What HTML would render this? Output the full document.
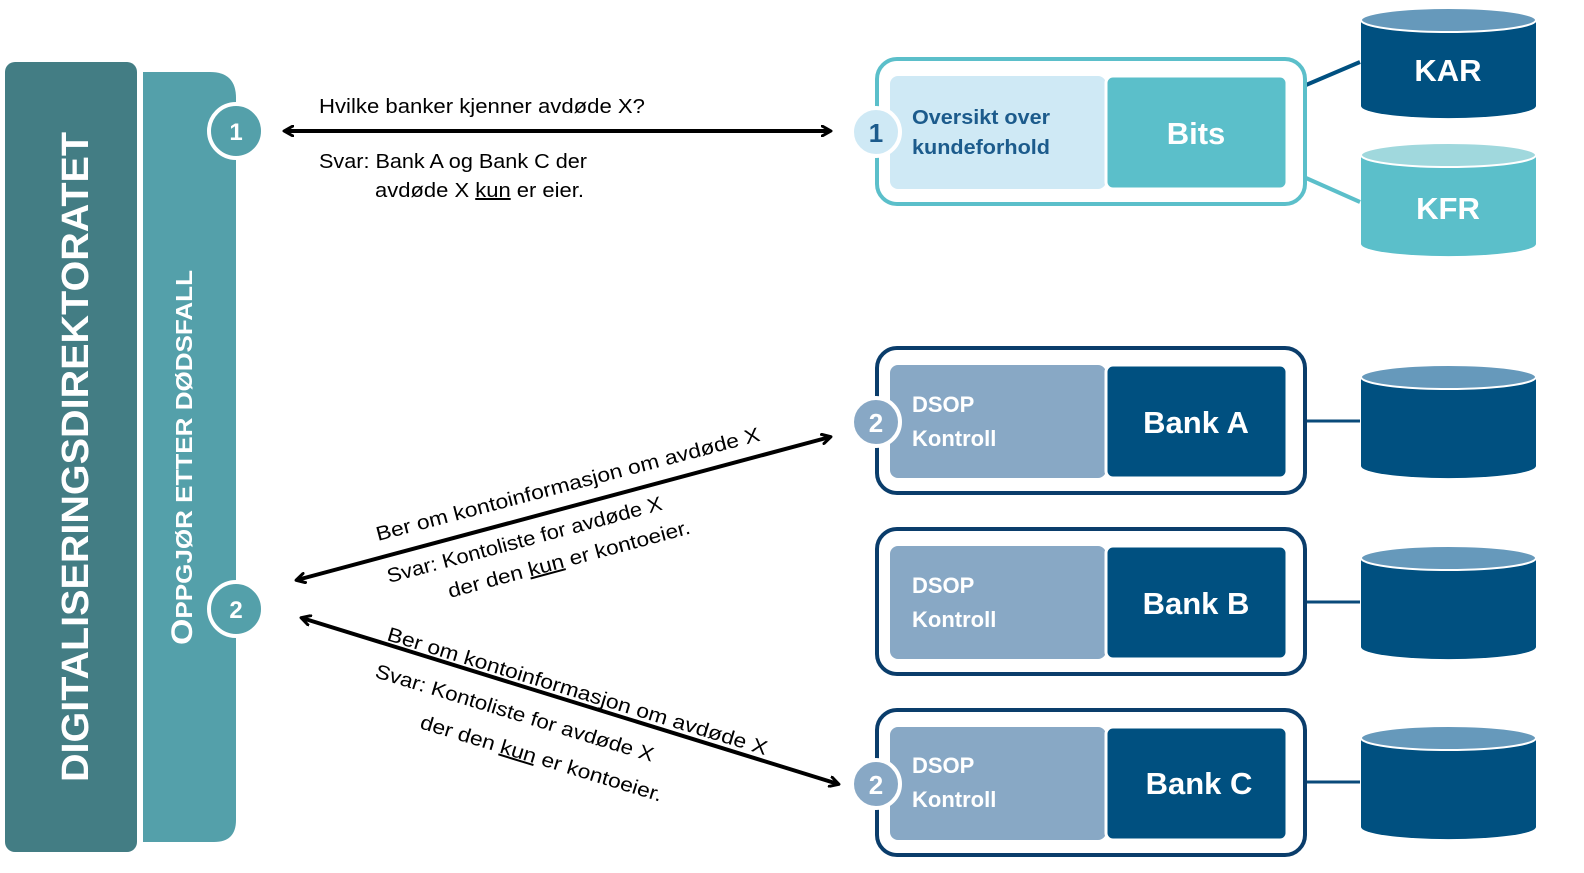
<!DOCTYPE html>
<html><head><meta charset="utf-8"><style>
html,body{margin:0;padding:0;background:#fff;width:1584px;height:873px;overflow:hidden;}
svg{position:absolute;left:0;top:0;font-family:"Liberation Sans",sans-serif;}
</style></head><body><svg width="1584" height="873" viewBox="0 0 1584 873" xmlns="http://www.w3.org/2000/svg">
<defs>
<marker id="ah" markerWidth="12" markerHeight="12" refX="9" refY="6" orient="auto-start-reverse" markerUnits="userSpaceOnUse">
<path d="M1,1 L10,6 L1,11" fill="none" stroke="#000" stroke-width="3" stroke-linecap="round" stroke-linejoin="round"/>
</marker>
</defs>
<rect x="5" y="62" width="132" height="790" rx="10" fill="#437d84"/>
<path d="M143,72 H210 Q236,72 236,98 V820 Q236,842 214,842 H143 Z" fill="#54a0aa"/>
<text transform="translate(88,782) rotate(-90)" fill="#fff" font-weight="bold" font-size="38" textLength="650" lengthAdjust="spacingAndGlyphs">DIGITALISERINGSDIREKTORATET</text>
<text transform="translate(192,645) rotate(-90)" fill="#fff" font-weight="bold" font-size="30" textLength="375" lengthAdjust="spacingAndGlyphs">O<tspan font-size="23">PPGJØR ETTER DØDSFALL</tspan></text>
<circle cx="236" cy="131" r="27" fill="#54a0aa" stroke="#fff" stroke-width="4"/>
<text x="236" y="140" fill="#fff" font-weight="bold" font-size="24" text-anchor="middle">1</text>
<circle cx="236" cy="609" r="27" fill="#54a0aa" stroke="#fff" stroke-width="4"/>
<text x="236" y="618" fill="#fff" font-weight="bold" font-size="24" text-anchor="middle">2</text>

<line x1="285" y1="131" x2="830" y2="131" stroke="#000" stroke-width="4" marker-start="url(#ah)" marker-end="url(#ah)"/>
<g font-size="20" fill="#000">
<text x="319" y="113" textLength="326" lengthAdjust="spacingAndGlyphs">Hvilke banker kjenner avdøde X?</text>
<text x="319" y="168" textLength="268" lengthAdjust="spacingAndGlyphs">Svar: Bank A og Bank C der</text>
<text x="375" y="197" textLength="209" lengthAdjust="spacingAndGlyphs">avdøde X <tspan text-decoration="underline">kun</tspan> er eier.</text>
</g>

<line x1="297" y1="580" x2="830" y2="437" stroke="#000" stroke-width="4" marker-start="url(#ah)" marker-end="url(#ah)"/>
<line x1="302" y1="618" x2="838" y2="784" stroke="#000" stroke-width="4" marker-start="url(#ah)" marker-end="url(#ah)"/>
<g font-size="20" fill="#000">
<text transform="translate(378,541) rotate(-14.7)" textLength="396" lengthAdjust="spacingAndGlyphs">Ber om kontoinformasjon om avdøde X</text>
<text transform="translate(389,583) rotate(-15)" textLength="284" lengthAdjust="spacingAndGlyphs">Svar: Kontoliste for avdøde X</text>
<text transform="translate(450,598) rotate(-15)" textLength="250" lengthAdjust="spacingAndGlyphs">der den <tspan text-decoration="underline">kun</tspan> er kontoeier.</text>
<text transform="translate(386,640) rotate(16.9)" textLength="396" lengthAdjust="spacingAndGlyphs">Ber om kontoinformasjon om avdøde X</text>
<text transform="translate(374,677) rotate(17)" textLength="290" lengthAdjust="spacingAndGlyphs">Svar: Kontoliste for avdøde X</text>
<text transform="translate(419,728) rotate(17)" textLength="252" lengthAdjust="spacingAndGlyphs">der den <tspan text-decoration="underline">kun</tspan> er kontoeier.</text>
</g>

<line x1="1306" y1="85" x2="1360" y2="62" stroke="#005080" stroke-width="4"/>
<line x1="1306" y1="178" x2="1360" y2="202" stroke="#5bbfca" stroke-width="4"/>
<rect x="877" y="59" width="428" height="145" rx="20" fill="#fff" stroke="#5bbfca" stroke-width="4"/>
<rect x="890" y="76" width="216" height="113" rx="8" fill="#cfe9f5"/>
<rect x="1106" y="76" width="181" height="113" rx="7" fill="#5bbfca" stroke="#fff" stroke-width="3"/>
<circle cx="876" cy="132" r="24" fill="#cfe9f5" stroke="#fff" stroke-width="4"/>
<text x="876" y="142" fill="#1c5b8c" font-weight="bold" font-size="26" text-anchor="middle">1</text>
<text x="912" y="124" fill="#1c5b8c" font-weight="bold" font-size="20" textLength="138" lengthAdjust="spacingAndGlyphs">Oversikt over</text>
<text x="912" y="154" fill="#1c5b8c" font-weight="bold" font-size="20" textLength="138" lengthAdjust="spacingAndGlyphs">kundeforhold</text>
<text x="1196" y="144" fill="#fff" font-weight="bold" font-size="31" text-anchor="middle">Bits</text>

<path d="M1361,20 V106 A87,12 0 0 0 1536,106 V20 Z" fill="#005080"/>
<ellipse cx="1448.5" cy="20" rx="87.5" ry="12" fill="#6699bb" stroke="#fff" stroke-width="2"/>
<text x="1448" y="81" fill="#fff" font-weight="bold" font-size="31" text-anchor="middle">KAR</text>
<path d="M1361,155 V244 A87,12 0 0 0 1536,244 V155 Z" fill="#5bbfca"/>
<ellipse cx="1448.5" cy="155" rx="87.5" ry="12" fill="#a0d8dd" stroke="#fff" stroke-width="2"/>
<text x="1448" y="219" fill="#fff" font-weight="bold" font-size="31" text-anchor="middle">KFR</text>

<g>
<line x1="1306" y1="421" x2="1360" y2="421" stroke="#0a4a7a" stroke-width="3"/>
<rect x="877" y="348" width="428" height="145" rx="20" fill="#fff" stroke="#0a3d6b" stroke-width="4"/>
<rect x="890" y="365" width="216" height="113" rx="8" fill="#88a8c5"/>
<rect x="1106" y="365" width="181" height="113" rx="7" fill="#005080" stroke="#fff" stroke-width="3"/>
<text x="912" y="412" fill="#fff" font-weight="bold" font-size="22">DSOP</text>
<text x="912" y="446" fill="#fff" font-weight="bold" font-size="22">Kontroll</text>
<text x="1196" y="433" fill="#fff" font-weight="bold" font-size="31" text-anchor="middle">Bank A</text>
<circle cx="876" cy="422" r="24" fill="#88a8c5" stroke="#fff" stroke-width="4"/>
<text x="876" y="432" fill="#fff" font-weight="bold" font-size="26" text-anchor="middle">2</text>
<path d="M1361,377 V466 A87,12 0 0 0 1536,466 V377 Z" fill="#005080"/>
<ellipse cx="1448.5" cy="377" rx="87.5" ry="12" fill="#6699bb" stroke="#fff" stroke-width="2"/>
</g>
<g>
<line x1="1306" y1="602" x2="1360" y2="602" stroke="#0a4a7a" stroke-width="3"/>
<rect x="877" y="529" width="428" height="145" rx="20" fill="#fff" stroke="#0a3d6b" stroke-width="4"/>
<rect x="890" y="546" width="216" height="113" rx="8" fill="#88a8c5"/>
<rect x="1106" y="546" width="181" height="113" rx="7" fill="#005080" stroke="#fff" stroke-width="3"/>
<text x="912" y="593" fill="#fff" font-weight="bold" font-size="22">DSOP</text>
<text x="912" y="627" fill="#fff" font-weight="bold" font-size="22">Kontroll</text>
<text x="1196" y="614" fill="#fff" font-weight="bold" font-size="31" text-anchor="middle">Bank B</text>
<path d="M1361,558 V647 A87,12 0 0 0 1536,647 V558 Z" fill="#005080"/>
<ellipse cx="1448.5" cy="558" rx="87.5" ry="12" fill="#6699bb" stroke="#fff" stroke-width="2"/>
</g>
<g>
<line x1="1306" y1="782" x2="1360" y2="782" stroke="#0a4a7a" stroke-width="3"/>
<rect x="877" y="710" width="428" height="145" rx="20" fill="#fff" stroke="#0a3d6b" stroke-width="4"/>
<rect x="890" y="727" width="216" height="113" rx="8" fill="#88a8c5"/>
<rect x="1106" y="727" width="181" height="113" rx="7" fill="#005080" stroke="#fff" stroke-width="3"/>
<text x="912" y="773" fill="#fff" font-weight="bold" font-size="22">DSOP</text>
<text x="912" y="807" fill="#fff" font-weight="bold" font-size="22">Kontroll</text>
<text x="1199" y="794" fill="#fff" font-weight="bold" font-size="31" text-anchor="middle">Bank C</text>
<circle cx="876" cy="784" r="24" fill="#88a8c5" stroke="#fff" stroke-width="4"/>
<text x="876" y="794" fill="#fff" font-weight="bold" font-size="26" text-anchor="middle">2</text>
<path d="M1361,738 V827 A87,12 0 0 0 1536,827 V738 Z" fill="#005080"/>
<ellipse cx="1448.5" cy="738" rx="87.5" ry="12" fill="#6699bb" stroke="#fff" stroke-width="2"/>
</g>
</svg></body></html>
